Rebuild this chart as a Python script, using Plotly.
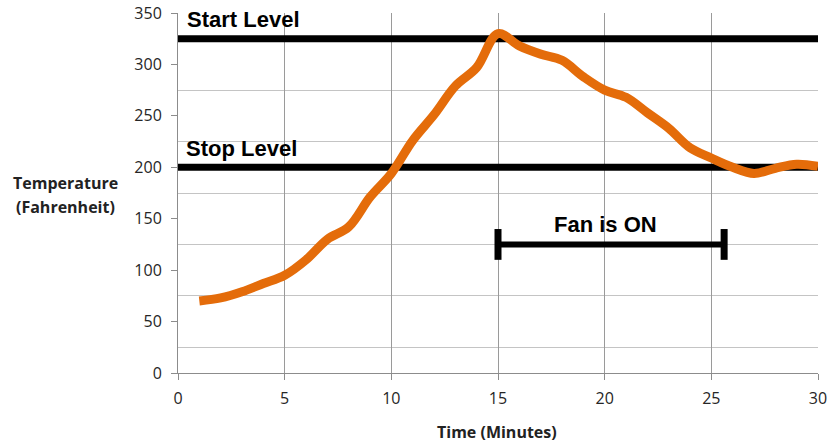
import plotly.graph_objects as go

# ---- data ----
time_min = list(range(1, 31))
temperature_f = [70, 73, 79, 87, 95, 110, 130, 142, 171, 194,
                 226, 251, 279, 297, 330, 318, 310, 304, 288, 275,
                 268, 253, 238, 219, 209, 200, 194, 199, 203, 201]
start_level = 325
stop_level = 200
level_x = [0, 30]
fan_on_x = [15, 25.6]
fan_bar_level = 125
x_ticks = [0, 5, 10, 15, 20, 25, 30]
y_ticks = [0, 50, 100, 150, 200, 250, 300, 350]

ORANGE = "#E46C0A"
TICK_FONT = dict(family="Open Sans", size=16, color="#262626")
BOLD = "Open Sans"

W, H = 830, 442
L, R, T, B = 178, 12, 13, 69

fig = go.Figure()

fig.add_trace(go.Scatter(x=level_x, y=[start_level, start_level], mode="lines",
                         line=dict(color="black", width=7), hoverinfo="skip"))
fig.add_trace(go.Scatter(x=level_x, y=[stop_level, stop_level], mode="lines",
                         line=dict(color="black", width=7), hoverinfo="skip"))
fig.add_trace(go.Scatter(x=fan_on_x, y=[fan_bar_level, fan_bar_level], mode="lines+markers",
                         line=dict(color="black", width=6),
                         marker=dict(symbol="line-ns", size=22, color="black",
                                     line=dict(color="black", width=7)),
                         hoverinfo="skip"))
fig.add_trace(go.Scatter(x=time_min, y=temperature_f, mode="lines",
                         line=dict(color=ORANGE, width=9, shape="spline", smoothing=1.0)))

fig.update_layout(
    width=W, height=H,
    margin=dict(l=L, r=R, t=T, b=B, pad=0),
    paper_bgcolor="white", plot_bgcolor="white",
    showlegend=False,
    xaxis=dict(range=[0, 30], tickvals=x_ticks, ticktext=[str(v) for v in x_ticks],
               automargin=False, ticklabeloverflow="allow",
               showgrid=True, gridcolor="#9a9a9a", gridwidth=1,
               showline=True, linecolor="#8c8c8c", linewidth=1,
               ticks="outside", ticklen=6, tickcolor="#8c8c8c",
               tickfont=TICK_FONT, ticklabelstandoff=5, zeroline=False, fixedrange=True),
    yaxis=dict(range=[0, 350], tickvals=y_ticks, ticktext=[str(v) for v in y_ticks],
               automargin=False, ticklabeloverflow="allow",
               showgrid=False,
               minor=dict(tick0=25, dtick=50, showgrid=True, gridcolor="#c4c4c4",
                          gridwidth=1, ticks=""),
               showline=True, linecolor="#8c8c8c", linewidth=1,
               ticks="outside", ticklen=6, tickcolor="#8c8c8c",
               tickfont=TICK_FONT, ticklabelstandoff=6, zeroline=False, fixedrange=True),
    annotations=[
        dict(text="<b>Start Level</b>", x=0.35, y=343.5, xref="x", yref="y",
             xanchor="left", yanchor="middle", showarrow=False,
             font=dict(family="Liberation Sans", size=22, color="black")),
        dict(text="<b>Stop Level</b>", x=0.3, y=218.5, xref="x", yref="y",
             xanchor="left", yanchor="middle", showarrow=False,
             font=dict(family="Liberation Sans", size=22, color="black")),
        dict(text="<b>Fan is ON</b>", x=20.05, y=144.5, xref="x", yref="y",
             xanchor="center", yanchor="middle", showarrow=False,
             font=dict(family="Liberation Sans", size=22, color="black")),
        dict(text="<b>Temperature</b>", x=65, y=183, xref="paper", yref="paper",
             showarrow=False, xanchor="center", yanchor="middle",
             font=dict(family=BOLD, size=16, color="#222222")),
        dict(text="<b>(Fahrenheit)</b>", x=65, y=207, xref="paper", yref="paper",
             showarrow=False, xanchor="center", yanchor="middle",
             font=dict(family=BOLD, size=16, color="#222222")),
        dict(text="<b>Time (Minutes)</b>", x=497, y=432, xref="paper", yref="paper",
             showarrow=False, xanchor="center", yanchor="middle",
             font=dict(family=BOLD, size=16, color="#222222")),
    ],
)

# convert pixel-placed title annotations (page pixels) to paper coordinates
pw, ph = W - L - R, H - T - B
for a in fig.layout.annotations:
    if a.xref == "paper":
        a.x = (a.x - L) / pw
        a.y = (H - B - a.y) / ph

# remove the browser's default 8px body margin so the 830x442 figure fills the window exactly
fig.write_html("out.html",
               config={"displayModeBar": False, "staticPlot": True},
               post_script="document.body.style.margin='0';"
                           "document.documentElement.style.overflow='hidden';")
